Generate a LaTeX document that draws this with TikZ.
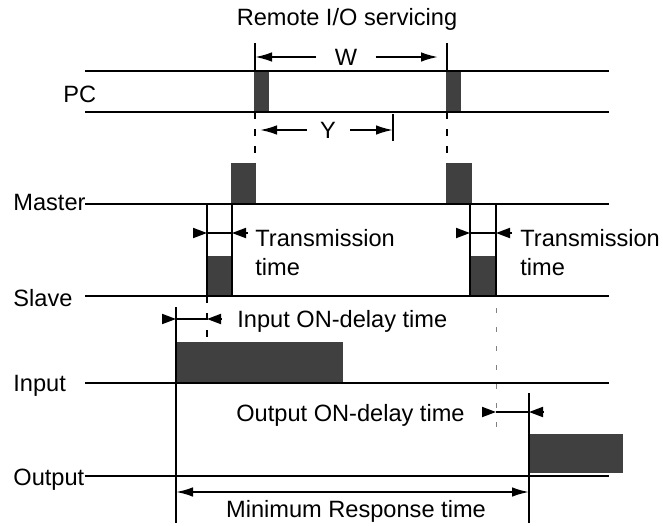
\documentclass[tikz,border=0pt]{standalone}
\usepackage{fontspec}
\setmainfont{Liberation Sans}
\definecolor{pulseGray}{RGB}{64,64,64}
\usetikzlibrary{arrows.meta,positioning}

\begin{document}
\begin{tikzpicture}[x=0.5pt, y=-0.5pt,
  font=\fontsize{11.8}{14.5}\selectfont,
  sig/.style={line width=0.95pt},
  pulse/.style={fill=pulseGray},
  lbl/.style={inner sep=0pt, text height=8.4pt, text depth=0pt},
  two/.style={inner sep=0pt, align=left, anchor=west},
  guide/.style={line width=0.95pt, dash pattern=on 3.5pt off 5pt},
  faint/.style={line width=0.4pt, gray, dash pattern=on 2.5pt off 7pt},
  dim/.style={line width=0.95pt, -{Latex[length=8.5pt,width=4.8pt]}},
  tip/.style={line width=0.95pt, -{Triangle[length=7pt,width=5pt]}}
]
  \useasboundingbox (0,0) rectangle (663,525);

  % pulses
  \fill[pulse] (254,71) rectangle (269,111);
  \fill[pulse] (446,71) rectangle (461,111);
  \fill[pulse] (231,163) rectangle (256,204);
  \fill[pulse] (446,163) rectangle (472,204);
  \fill[pulse] (207,256) rectangle (232,296);
  \fill[pulse] (470,256) rectangle (496,296);
  \fill[pulse] (176,342) rectangle (343,383);
  \fill[pulse] (529,434) rectangle (623,473);

  % signal lines
  \draw[sig] (85,71) -- (609,71);
  \draw[sig] (85,112) -- (609,112);
  \draw[sig] (85,204) -- (609,204);
  \draw[sig] (85,296) -- (609,296);
  \draw[sig] (85,383) -- (609,383);
  \draw[sig] (85,476) -- (609,476);

  \node[lbl, anchor=west] (pc)  at (63,94)  {PC};
  \node[lbl, anchor=west] (mst) at (13,202) {Master};
  \node[lbl, anchor=west] (slv) at (13,298) {Slave};
  \node[lbl, anchor=west] (inp) at (13,383) {Input};
  \node[lbl, anchor=west] (out) at (13,477) {Output};

  % marks
  \coordinate (wL) at (255,43);  \coordinate (wR) at (447,43);
  \coordinate (yR) at (393,114);
  \coordinate (t1) at (207,204); \coordinate (t2) at (232,204);
  \coordinate (t3) at (470,204); \coordinate (t4) at (496,204);
  \coordinate (iL) at (176,307); \coordinate (oR) at (529,393);

  \draw[sig] (wL) -- (255,71);
  \draw[sig] (wR) -- (447,71);
  \draw[sig] (yR) -- (393,141);
  \draw[sig] (t1) -- (207,296);
  \draw[sig] (t2) -- (232,296);
  \draw[sig] (t3) -- (470,296);
  \draw[sig] (t4) -- (496,296);
  \draw[sig] (iL) -- (176,523);
  \draw[sig] (oR) -- (529,523);

  \draw[guide] (255,112) -- (255,163);
  \draw[guide] (447,112) -- (447,163);
  \draw[guide] (207,296) -- (207,342);
  \draw[faint] (496,308) -- (496,428);

  % W and Y
  \node[lbl] (ttl) at (347,17) {Remote I/O servicing};
  \node[lbl] (w) at (346,57) {W};
  \draw[dim] ([xshift=-9pt]w.west) -- (255,57);
  \draw[dim] ([xshift=9pt]w.east) -- (438,57);
  \node[lbl] (y) at (328,130) {Y};
  \draw[dim] ([xshift=-6.5pt]y.west) -- (260,130);
  \draw[dim] ([xshift=7pt]y.east) -- (393,130);

  % transmission
  \draw[tip] (193,233) -- (207,233);
  \draw[sig] (207,233) -- (232,233);
  \draw[tip] (248,233) -- (232,233);
  \node[two] (tx1) at (255,252.5) {Transmission\\time};
  \draw[tip] (456,233) -- (470,233);
  \draw[sig] (470,233) -- (496,233);
  \draw[tip] (512,233) -- (496,233);
  \node[two] (tx2) at (520,252.5) {Transmission\\time};

  % delays
  \draw[tip] (162,319) -- (176,319);
  \draw[sig] (176,319) -- (207,319);
  \draw[tip] (221,319) -- (207,319);
  \node[lbl, anchor=west] (ion) at (237,319) {Input ON-delay time};
  \draw[tip] (482,412) -- (496,412);
  \draw[sig] (496,412) -- (529,412);
  \draw[tip] (543,412) -- (529,412);
  \node[lbl, anchor=east] (oon) at (465,413) {Output ON-delay time};

  % response
  \draw[sig, {Latex[length=8.5pt,width=4.8pt]}-{Latex[length=8.5pt,width=4.8pt]}]
    (176,492) -- (529,492);
  \node[lbl] (rsp) at (356,509) {Minimum Response time};
\end{tikzpicture}
\end{document}
